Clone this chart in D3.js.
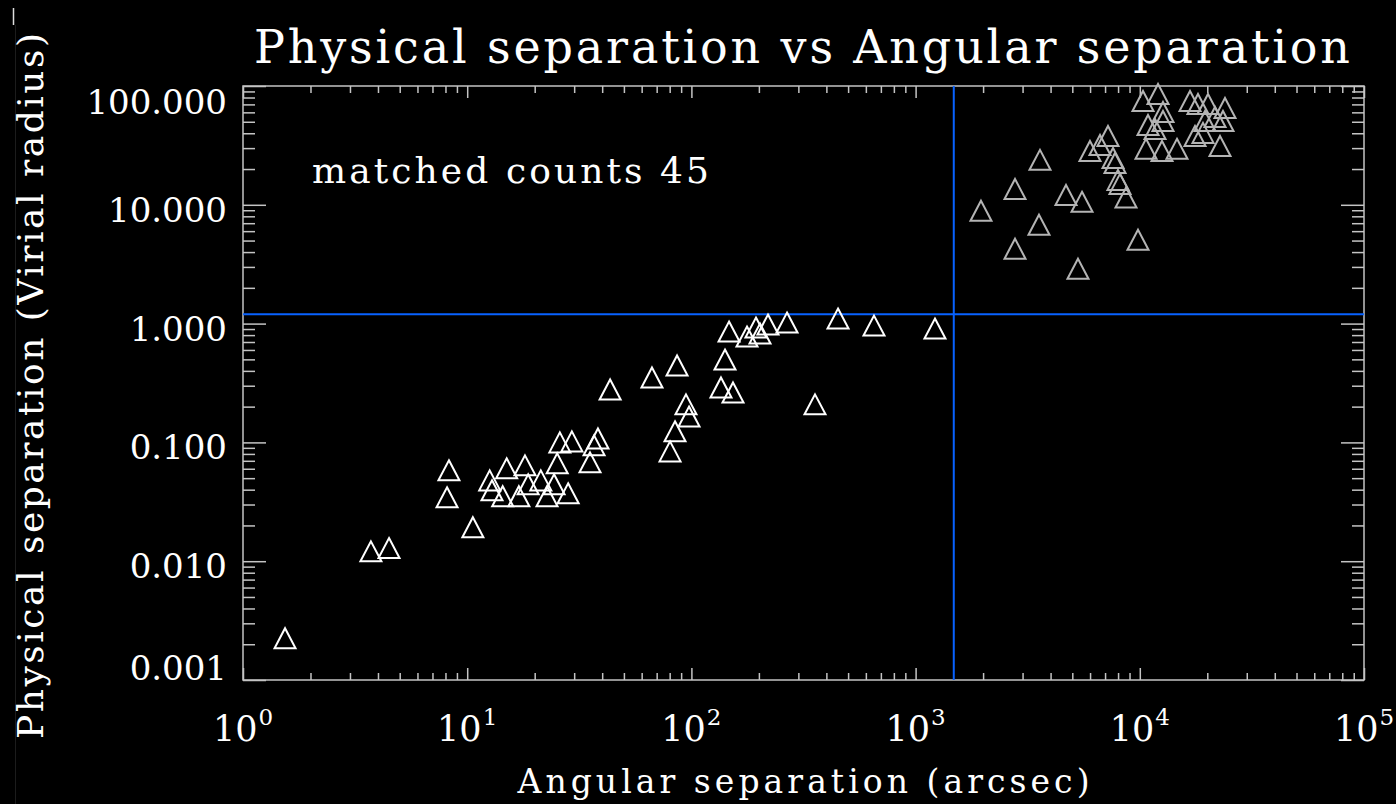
<!DOCTYPE html>
<html>
<head>
<meta charset="utf-8">
<script src="https://cdn.jsdelivr.net/npm/d3@7"></script>
<style>
  html, body { margin: 0; padding: 0; background: #000; }
  svg { display: block; }
</style>
</head>
<body>
<svg id="chart" width="1396" height="804"></svg>
<script>
// Pairs inside the projected virial radius (drawn in white)
const closeAngSep = [1.54, 3.72, 4.48, 8.13, 8.29, 10.6, 12.6, 12.9, 14.4, 15.0,
  17.0, 18.1, 18.7, 21.3, 22.7, 24.4, 25.2, 25.9, 28.2, 29.3,
  35.3, 36.8, 38.3, 43.4, 66.7, 80.3, 84.5, 86.3, 94.6, 97.6,
  135.5, 141.2, 147.2, 153.3, 177.0, 194.1, 202.3, 219.6, 267.0, 355.9,
  450.8, 652.3, 1220];
const closePhysSep = [0.00225, 0.0121, 0.0129, 0.0345, 0.0582, 0.0193, 0.0479, 0.0395, 0.0352, 0.0605,
  0.0352, 0.0641, 0.0444, 0.0479, 0.0352, 0.0444, 0.0666, 0.100, 0.0373, 0.102,
  0.0679, 0.0944, 0.108, 0.279, 0.352, 0.0840, 0.124, 0.444, 0.209, 0.165,
  0.290, 0.498, 0.857, 0.263, 0.778, 0.926, 0.824, 0.981, 1.020, 0.209,
  1.102, 0.962, 0.908];

// Wide pairs beyond the cuts (drawn in grey)
const wideAngSep = [1957, 2776, 3588, 3551, 2776, 4687, 5524, 5300, 5995, 6646,
  7214, 7596, 7752, 7993, 8160, 8679, 9817, 10335, 12060, 12690,
  10880, 11690, 12690, 10660, 12560, 14650, 16750, 18180, 20150, 17630,
  19140, 19540, 21650, 22790, 23990, 23500];
const widePhysSep = [8.91, 13.6, 23.9, 6.79, 4.27, 12.1, 10.6, 2.90, 28.4, 31.9,
  38.0, 24.8, 22.5, 16.2, 15.0, 11.5, 5.08, 74.8, 85.7, 60.5,
  47.0, 43.5, 50.8, 29.6, 28.4, 29.6, 74.8, 70.6, 70.6, 38.0,
  40.3, 50.8, 54.9, 31.3, 65.3, 50.8];

// Axis tick values and labels
const yTickValues = [0.001, 0.01, 0.1, 1, 10, 100];
const yTickLabels = ["0.001", "0.010", "0.100", "1.000", "10.000", "100.000"];
const xTickValues = [1, 10, 100, 1000, 10000, 100000];
const xTickExponents = ["0", "1", "2", "3", "4", "5"];

// Cut lines and annotation
const angCut = 1480;
const physCut = 1.2;
const matchedCount = 45;

const titleText = "Physical separation vs Angular separation";
const xTitle = "Angular separation (arcsec)";
const yTitle = "Physical separation (Virial radius)";

const FONT = "'DejaVu Serif', 'Liberation Serif', serif";
const AXIS_COLOR = "#c4c4c4";
const CUT_COLOR = "#0862ff";

const svg = d3.select("#chart");
svg.append("rect").attr("width", 1396).attr("height", 804).attr("fill", "#000");

const m = { left: 243, right: 1364, top: 86, bottom: 680 };
const x = d3.scaleLog().domain([1, 1e5]).range([m.left, m.right]);
const y = d3.scaleLog().domain([0.001, 100]).range([m.bottom, m.top]);

// Thin edge marks at far left
svg.append("line").attr("x1", 15.5).attr("x2", 15.5).attr("y1", 25).attr("y2", 804)
  .attr("stroke", "#1c1c1c").attr("stroke-width", 1);
svg.append("line").attr("x1", 13.5).attr("x2", 13.5).attr("y1", 8).attr("y2", 25)
  .attr("stroke", "#ddd").attr("stroke-width", 1.5);

// Serif text helper; optional textLength widens letter spacing
function label(g, str, opts) {
  const t = g.append("text")
    .attr("x", opts.x).attr("y", opts.y)
    .attr("font-family", FONT)
    .attr("font-size", opts.size)
    .attr("fill", opts.fill || "#fff")
    .attr("text-anchor", opts.anchor || "start")
    .text(str);
  if (opts.len) t.attr("textLength", opts.len).attr("lengthAdjust", "spacing");
  if (opts.transform) t.attr("transform", opts.transform);
  return t;
}

// Ticks: majors and minors on all four sides, pointing inward
const isMajor = v => Math.abs(Math.log10(v) - Math.round(Math.log10(v))) < 1e-9;
const xMinor = x.ticks().filter(v => !isMajor(v));
const yMinor = y.ticks().filter(v => !isMajor(v));

function addAxis(axisFn, scale, vals, size, tx, ty) {
  const g = svg.append("g").attr("transform", `translate(${tx},${ty})`)
    .call(axisFn(scale).tickValues(vals).tickSize(size).tickSizeOuter(0).tickFormat(""));
  g.select(".domain").remove();
  g.selectAll(".tick line").attr("stroke", AXIS_COLOR).attr("stroke-width", 1.5);
}
addAxis(d3.axisBottom, x, xTickValues, -12, 0, m.bottom);
addAxis(d3.axisBottom, x, xMinor, -7, 0, m.bottom);
addAxis(d3.axisTop, x, xTickValues, -12, 0, m.top);
addAxis(d3.axisTop, x, xMinor, -7, 0, m.top);
addAxis(d3.axisLeft, y, yTickValues, -23, m.left, 0);
addAxis(d3.axisLeft, y, yMinor, -12, m.left, 0);
addAxis(d3.axisRight, y, yTickValues, -23, m.right, 0);
addAxis(d3.axisRight, y, yMinor, -12, m.right, 0);

// Plot frame
svg.append("rect")
  .attr("x", m.left).attr("y", m.top)
  .attr("width", m.right - m.left).attr("height", m.bottom - m.top)
  .attr("fill", "none").attr("stroke", AXIS_COLOR).attr("stroke-width", 1.5);

// Y tick labels (kept inside the axis span)
const labels = svg.append("g");
yTickValues.forEach((v, i) => {
  const base = Math.max(m.top + 28, Math.min(m.bottom, y(v) + 17));
  label(labels, yTickLabels[i], { x: 227, y: base, size: 34, anchor: "end" });
});

// X tick labels: 10 with a raised exponent
xTickValues.forEach((v, i) => {
  const t = labels.append("text")
    .attr("x", x(v)).attr("y", 741)
    .attr("font-family", FONT).attr("font-size", 35)
    .attr("fill", "#fff").attr("text-anchor", "middle");
  t.append("tspan").text("10");
  t.append("tspan").attr("dy", -16).attr("dx", 1).attr("font-size", 23).text(xTickExponents[i]);
});

// Titles
label(svg, titleText, { x: (254 + 1350) / 2, y: 63, size: 46, len: 1096, anchor: "middle" });
label(svg, xTitle, { x: (m.left + m.right) / 2, y: 793, size: 33, len: 572, anchor: "middle" });
label(svg, yTitle, { x: 0, y: 0, size: 36, len: 706, anchor: "middle",
  transform: `translate(43,386) rotate(-90)` });

// Annotation
label(svg, "matched counts " + matchedCount, { x: 312, y: 183, size: 36, len: 397 });

// Cut lines
svg.append("line")
  .attr("x1", x(angCut)).attr("x2", x(angCut))
  .attr("y1", m.top).attr("y2", m.bottom)
  .attr("stroke", CUT_COLOR).attr("stroke-width", 2);
svg.append("line")
  .attr("x1", m.left).attr("x2", m.right)
  .attr("y1", y(physCut)).attr("y2", y(physCut))
  .attr("stroke", CUT_COLOR).attr("stroke-width", 2);

// Triangle markers
const tri = "M0,-10L10.5,10L-10.5,10Z";
function drawPoints(xs, ys, color) {
  const pts = xs.map((v, i) => ({ ang: v, phys: ys[i] }));
  svg.append("g").selectAll("path").data(pts).join("path")
    .attr("d", tri)
    .attr("transform", d => `translate(${x(d.ang)},${y(d.phys)})`)
    .attr("fill", "none")
    .attr("stroke", color)
    .attr("stroke-width", 2)
    .attr("stroke-linejoin", "miter");
}
drawPoints(closeAngSep, closePhysSep, "#ffffff");
drawPoints(wideAngSep, widePhysSep, "#b4b4b4");
</script>
</body>
</html>
